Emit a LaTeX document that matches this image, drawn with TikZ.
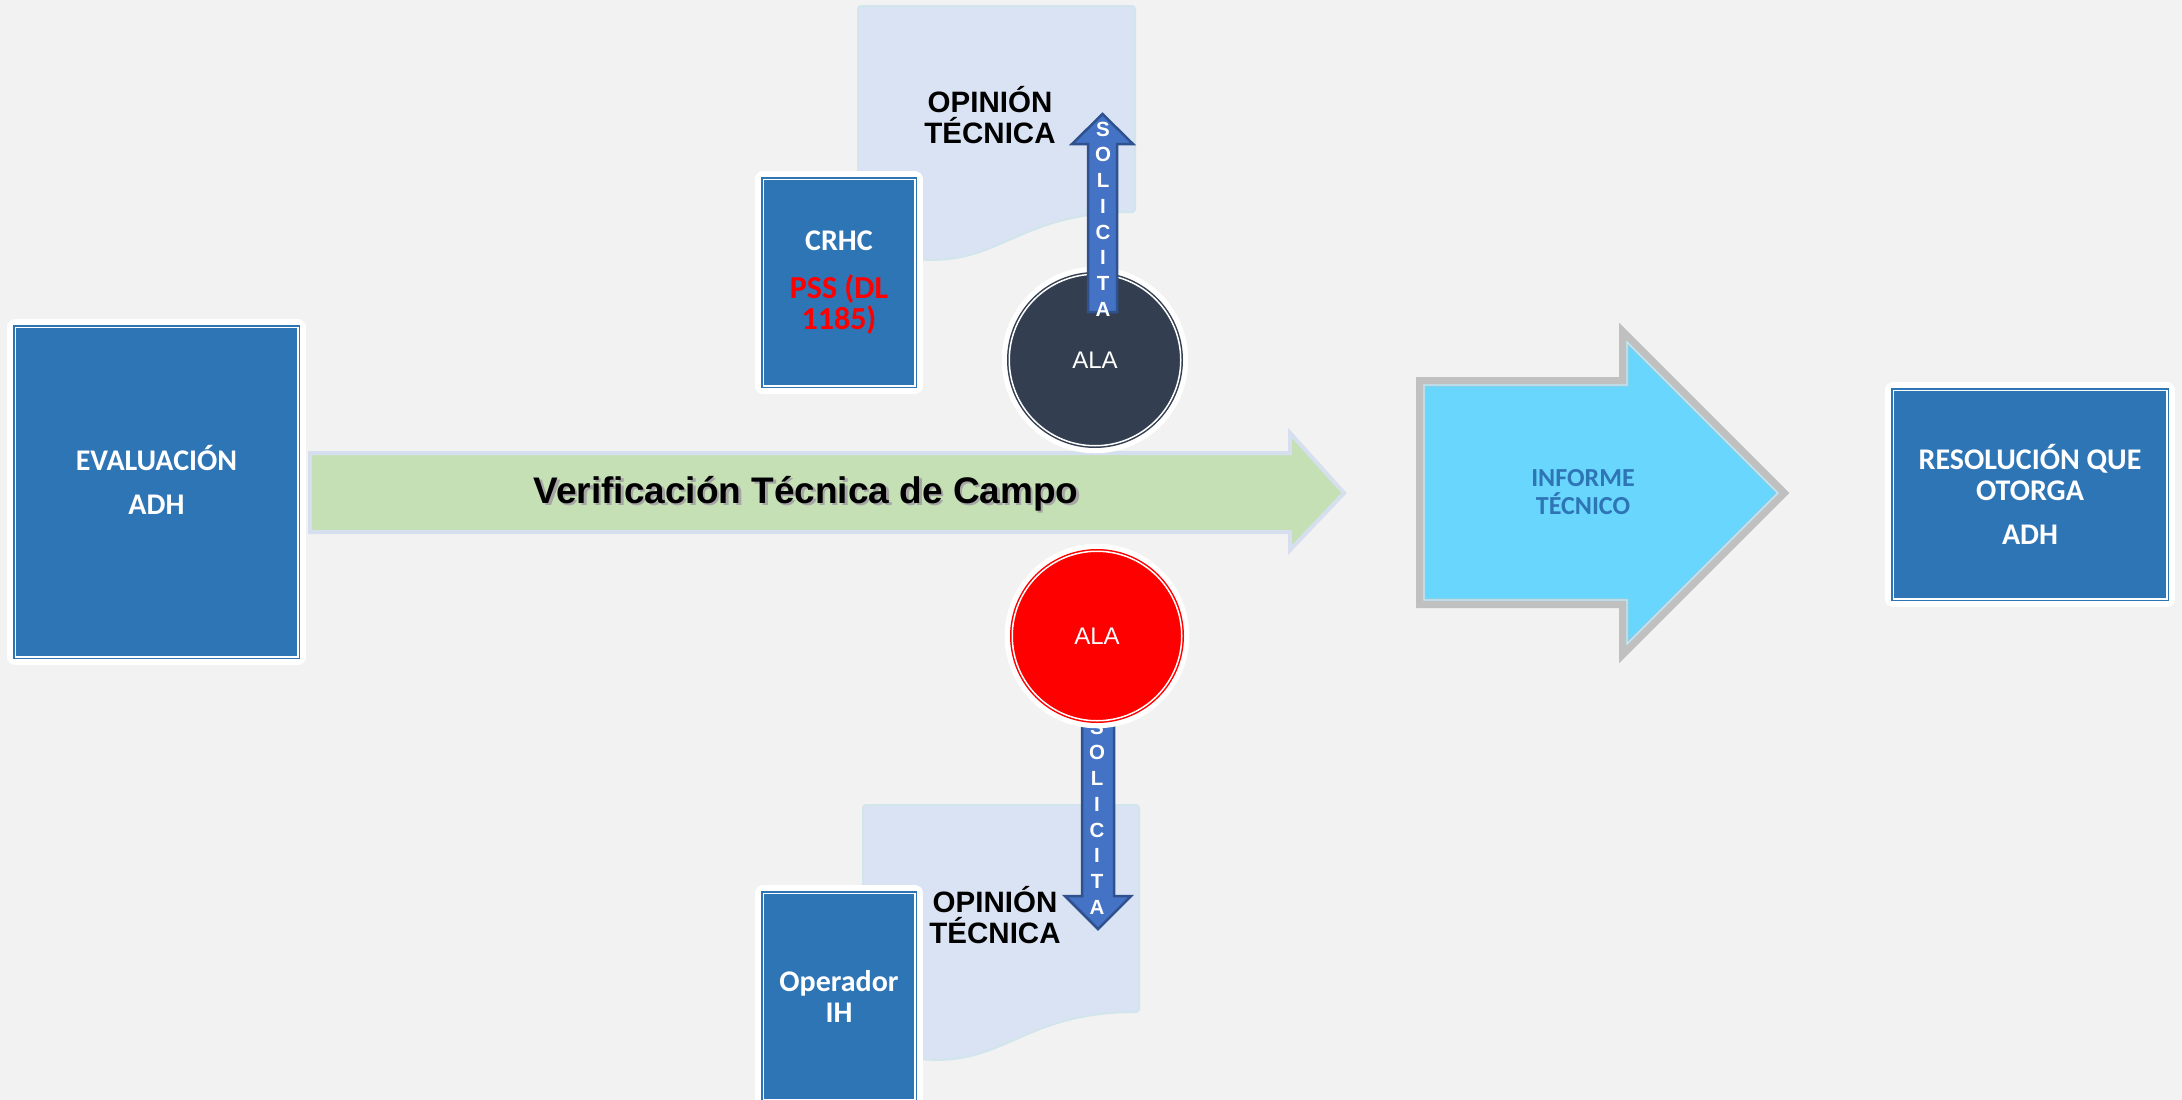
\documentclass[tikz,border=0pt]{standalone}
\usepackage{fontspec}
\setmainfont{Liberation Sans}
\newfontfamily\calibri{Carlito}
\usetikzlibrary{positioning}
\definecolor{pagebg}{HTML}{F2F2F2}
\definecolor{boxblue}{HTML}{2E75B6}
\definecolor{docfill}{HTML}{DAE3F3}
\definecolor{docedge}{HTML}{D2E5EC}
\definecolor{fieldgreen}{HTML}{C5E0B4}
\definecolor{fieldedge}{HTML}{D5DFEE}
\definecolor{aladark}{HTML}{333F50}
\definecolor{alared}{HTML}{FF0000}
\definecolor{askfill}{HTML}{4472C4}
\definecolor{askedge}{HTML}{2F528F}
\definecolor{infofill}{HTML}{69D7FD}
\definecolor{infoedge}{HTML}{C0C0C0}
\tikzset{panel/.style={fill=boxblue,draw=boxblue,double=white,line width=1.5pt,double distance=1.5pt,
    preaction={draw=white,line width=16pt,line join=round},inner sep=0pt,
    text=white,font=\calibri\bfseries\fontsize{30}{31}\selectfont,align=center},
  paneltext/.style={text=white,font=\calibri\bfseries\fontsize{30}{31}\selectfont,align=center,inner sep=0pt},
  ala/.style={circle,fill=#1,draw=#1,double=white,line width=1.5pt,double distance=1.5pt,
    preaction={draw=white,line width=15pt},inner sep=0pt,text=white,font=\fontsize{24}{28}\selectfont},
  docpage/.style={fill=docfill,draw=docedge,line width=2pt,rounded corners=3pt},
  opinion/.style={font=\bfseries\fontsize{29.5}{31}\selectfont,align=center,inner sep=0pt},
  askarrow/.style={fill=askfill,draw=askedge,line width=2.5pt},
  asktext/.style={text=white,font=\bfseries\fontsize{20.5}{25.7}\selectfont,align=center,inner sep=0pt},
  fieldtext/.style={font=\bfseries\fontsize{37}{40}\selectfont,anchor=base,inner sep=0pt}}

\begin{document}
\begin{tikzpicture}[x=1pt,y=-1pt]
    \useasboundingbox (0,0) rectangle (2182,1100);
    \clip (0,0) rectangle (2182,1100);
    \fill[pagebg] (0,0) rectangle (2182,1100);

    \draw[docpage] (858,6) -- (1135,6) -- (1135,212) .. controls (996,212) and (996,290) .. (858,246) -- cycle;
    \draw[docpage] (863,805) -- (1139,805) -- (1139,1012) .. controls (1001,1012) and (1001,1090) .. (863,1046) -- cycle;

    \node[panel,minimum width=151.5pt,minimum height=206.5pt] (crhc) at (839,282.5)
        {CRHC\\[17pt]\textcolor{red}{\fontsize{32}{31}\selectfont PSS (DL}\\\textcolor{red}{\fontsize{32}{31}\selectfont 1185)}};
    \node[panel,minimum width=151.5pt,minimum height=206.5pt] (operador) at (839,996.5) {Operador\\IH};
    \node[opinion] (opinionup) at (990,115.5) {OPINIÓN\\TÉCNICA};
    \node[opinion] (opiniondown) at (995,915.5) {OPINIÓN\\TÉCNICA};

    \draw[fill=fieldgreen,draw=fieldedge,line width=4pt] (310,453) -- (1290,453) -- (1290,433) -- (1344,493)
        -- (1290,550) -- (1290,532) -- (310,532) -- cycle;
    \node[fieldtext,text=black!35] (camposhadow) at (808.5,505.5) {Verificación Técnica de Campo};
    \node[fieldtext] (campo) at (806,503) {Verificación Técnica de Campo};

    \node[ala=aladark,minimum size=171.5pt] (alaup) at (1095,360) {ALA};
    \draw[askarrow] (1088,312) -- (1088,144) -- (1072,144) -- (1102.5,114) -- (1133,144) -- (1117,144) -- (1117,312) -- cycle;
    \node[asktext] (askup) at (1103,219) {S\\O\\L\\I\\C\\I\\T\\A};

    \draw[askarrow] (1082,700) -- (1082,896) -- (1065,896) -- (1098,929) -- (1131,896) -- (1114,896) -- (1114,700) -- cycle;
    \node[asktext] (askdown) at (1097,817) {S\\O\\L\\I\\C\\I\\T\\A};
    \node[ala=alared,minimum size=169.5pt] (aladown) at (1097,636) {ALA};

    \draw[fill=infofill,draw=infoedge,double=white!55!infofill,line width=0.8pt,double distance=1.2pt,
        preaction={draw=infoedge,line width=16pt}] (1424,385) -- (1627,385) -- (1627,342) -- (1778,493)
        -- (1627,644) -- (1627,600) -- (1424,600) -- cycle;
    \node[text=boxblue,font=\calibri\bfseries\fontsize{26}{28}\selectfont,align=center,inner sep=0pt] (informe)
        at (1583,492) {INFORME\\TÉCNICO};

    \node[panel,minimum width=273.5pt,minimum height=208.5pt] (resolucion) at (2030,494.5)
        {RESOLUCIÓN QUE\\OTORGA\\[13pt]ADH};
    \node[panel,minimum width=282.5pt,minimum height=329.5pt] (evaluacion) at (156.5,492) {};
    \node[paneltext] (evaluaciontxt) at (156.5,480) {EVALUACIÓN\\[13pt]ADH};
\end{tikzpicture}
\end{document}
